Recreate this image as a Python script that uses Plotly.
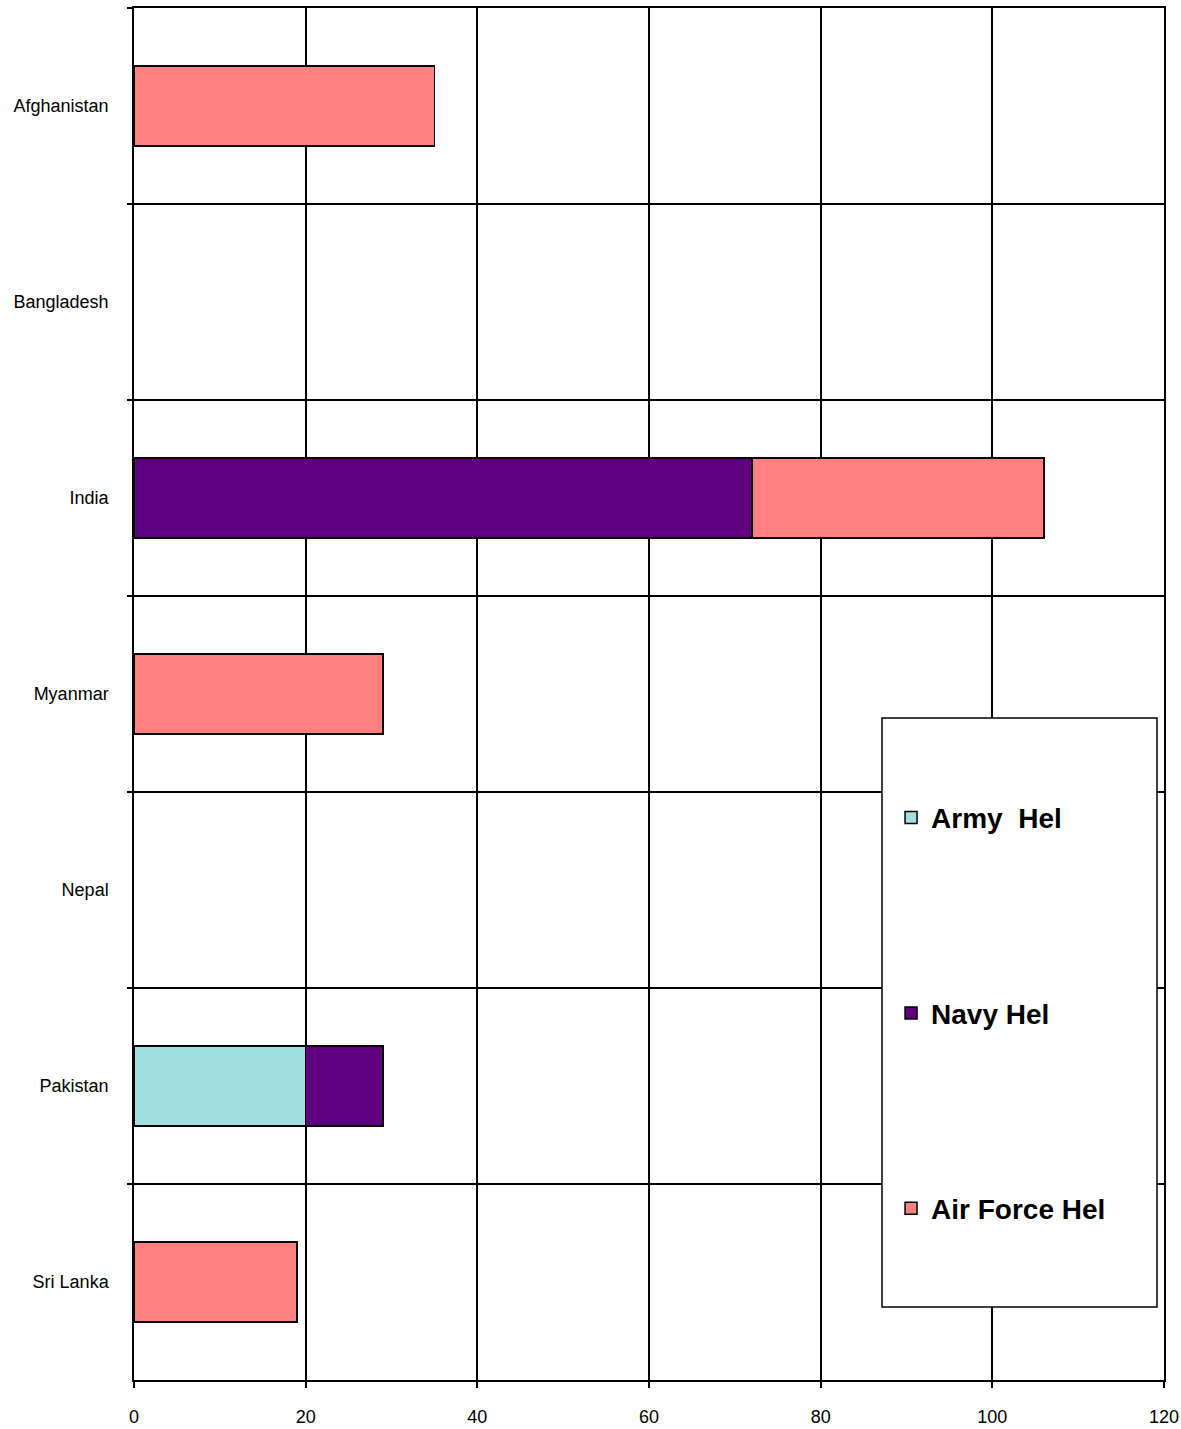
import plotly.graph_objects as go

paises = ["Afghanistan", "Bangladesh", "India", "Myanmar", "Nepal", "Pakistan", "Sri Lanka"]

army_hel = [None, None, None, None, None, 20, None]
navy_hel = [None, None, 72, None, None, 9, None]
air_force_hel = [35, None, 34, 29, None, None, 19]

series = [
    ("Army\u00a0 Hel", army_hel, "#A0E0E0"),
    ("Navy Hel", navy_hel, "#600080"),
    ("Air Force Hel", air_force_hel, "#FF8080"),
]

fig = go.Figure()
for i, (nombre, valores, color) in enumerate(series):
    fig.add_trace(go.Bar(
        y=paises,
        x=valores,
        name=nombre,
        orientation="h",
        marker=dict(color=color, line=dict(color="black", width=1.5)),
        legendgroup=str(i),
    ))

fig.update_layout(
    barmode="stack",
    bargap=0.59,
    width=1181,
    height=1429,
    margin=dict(l=134, r=17, t=8, b=49),
    plot_bgcolor="white",
    paper_bgcolor="white",
    font=dict(family="Liberation Sans, Arial", size=18, color="black"),
    legend=dict(
        x=0.735, y=0.428, xanchor="left", yanchor="top",
        traceorder="grouped", tracegroupgap=156,
        bgcolor="rgba(0,0,0,0)", borderwidth=0,
        font=dict(size=28, family="Liberation Sans, Arial", color="black", weight="bold"),
        itemwidth=30,
    ),
    shapes=[dict(
        type="rect", xref="paper", yref="paper",
        x0=(882 - 134) / 1030, x1=(1157 - 134) / 1030,
        y0=(1380 - 1307) / 1372, y1=(1380 - 718) / 1372,
        line=dict(color="black", width=1.5), fillcolor="white", layer="above",
    )],
)
fig.update_xaxes(
    range=[0, 120], dtick=20, showgrid=True, gridcolor="black", gridwidth=1.5,
    showline=True, linecolor="black", linewidth=1.5, mirror=True,
    ticks="outside", ticklen=6, tickcolor="black", tickwidth=1.5,
    zeroline=False, ticklabelstandoff=14, automargin=False,
)
fig.update_yaxes(
    type="category", autorange="reversed", tickson="boundaries",
    showgrid=True, gridcolor="black", gridwidth=1.5,
    showline=True, linecolor="black", linewidth=1.5, mirror=True,
    ticks="outside", ticklen=5, tickcolor="black", tickwidth=1.5,
    ticklabelstandoff=20, automargin=False,
)

fig.write_html(
    "out.html",
    config={"displayModeBar": False},
    post_script="document.body.style.margin='0';",
)
